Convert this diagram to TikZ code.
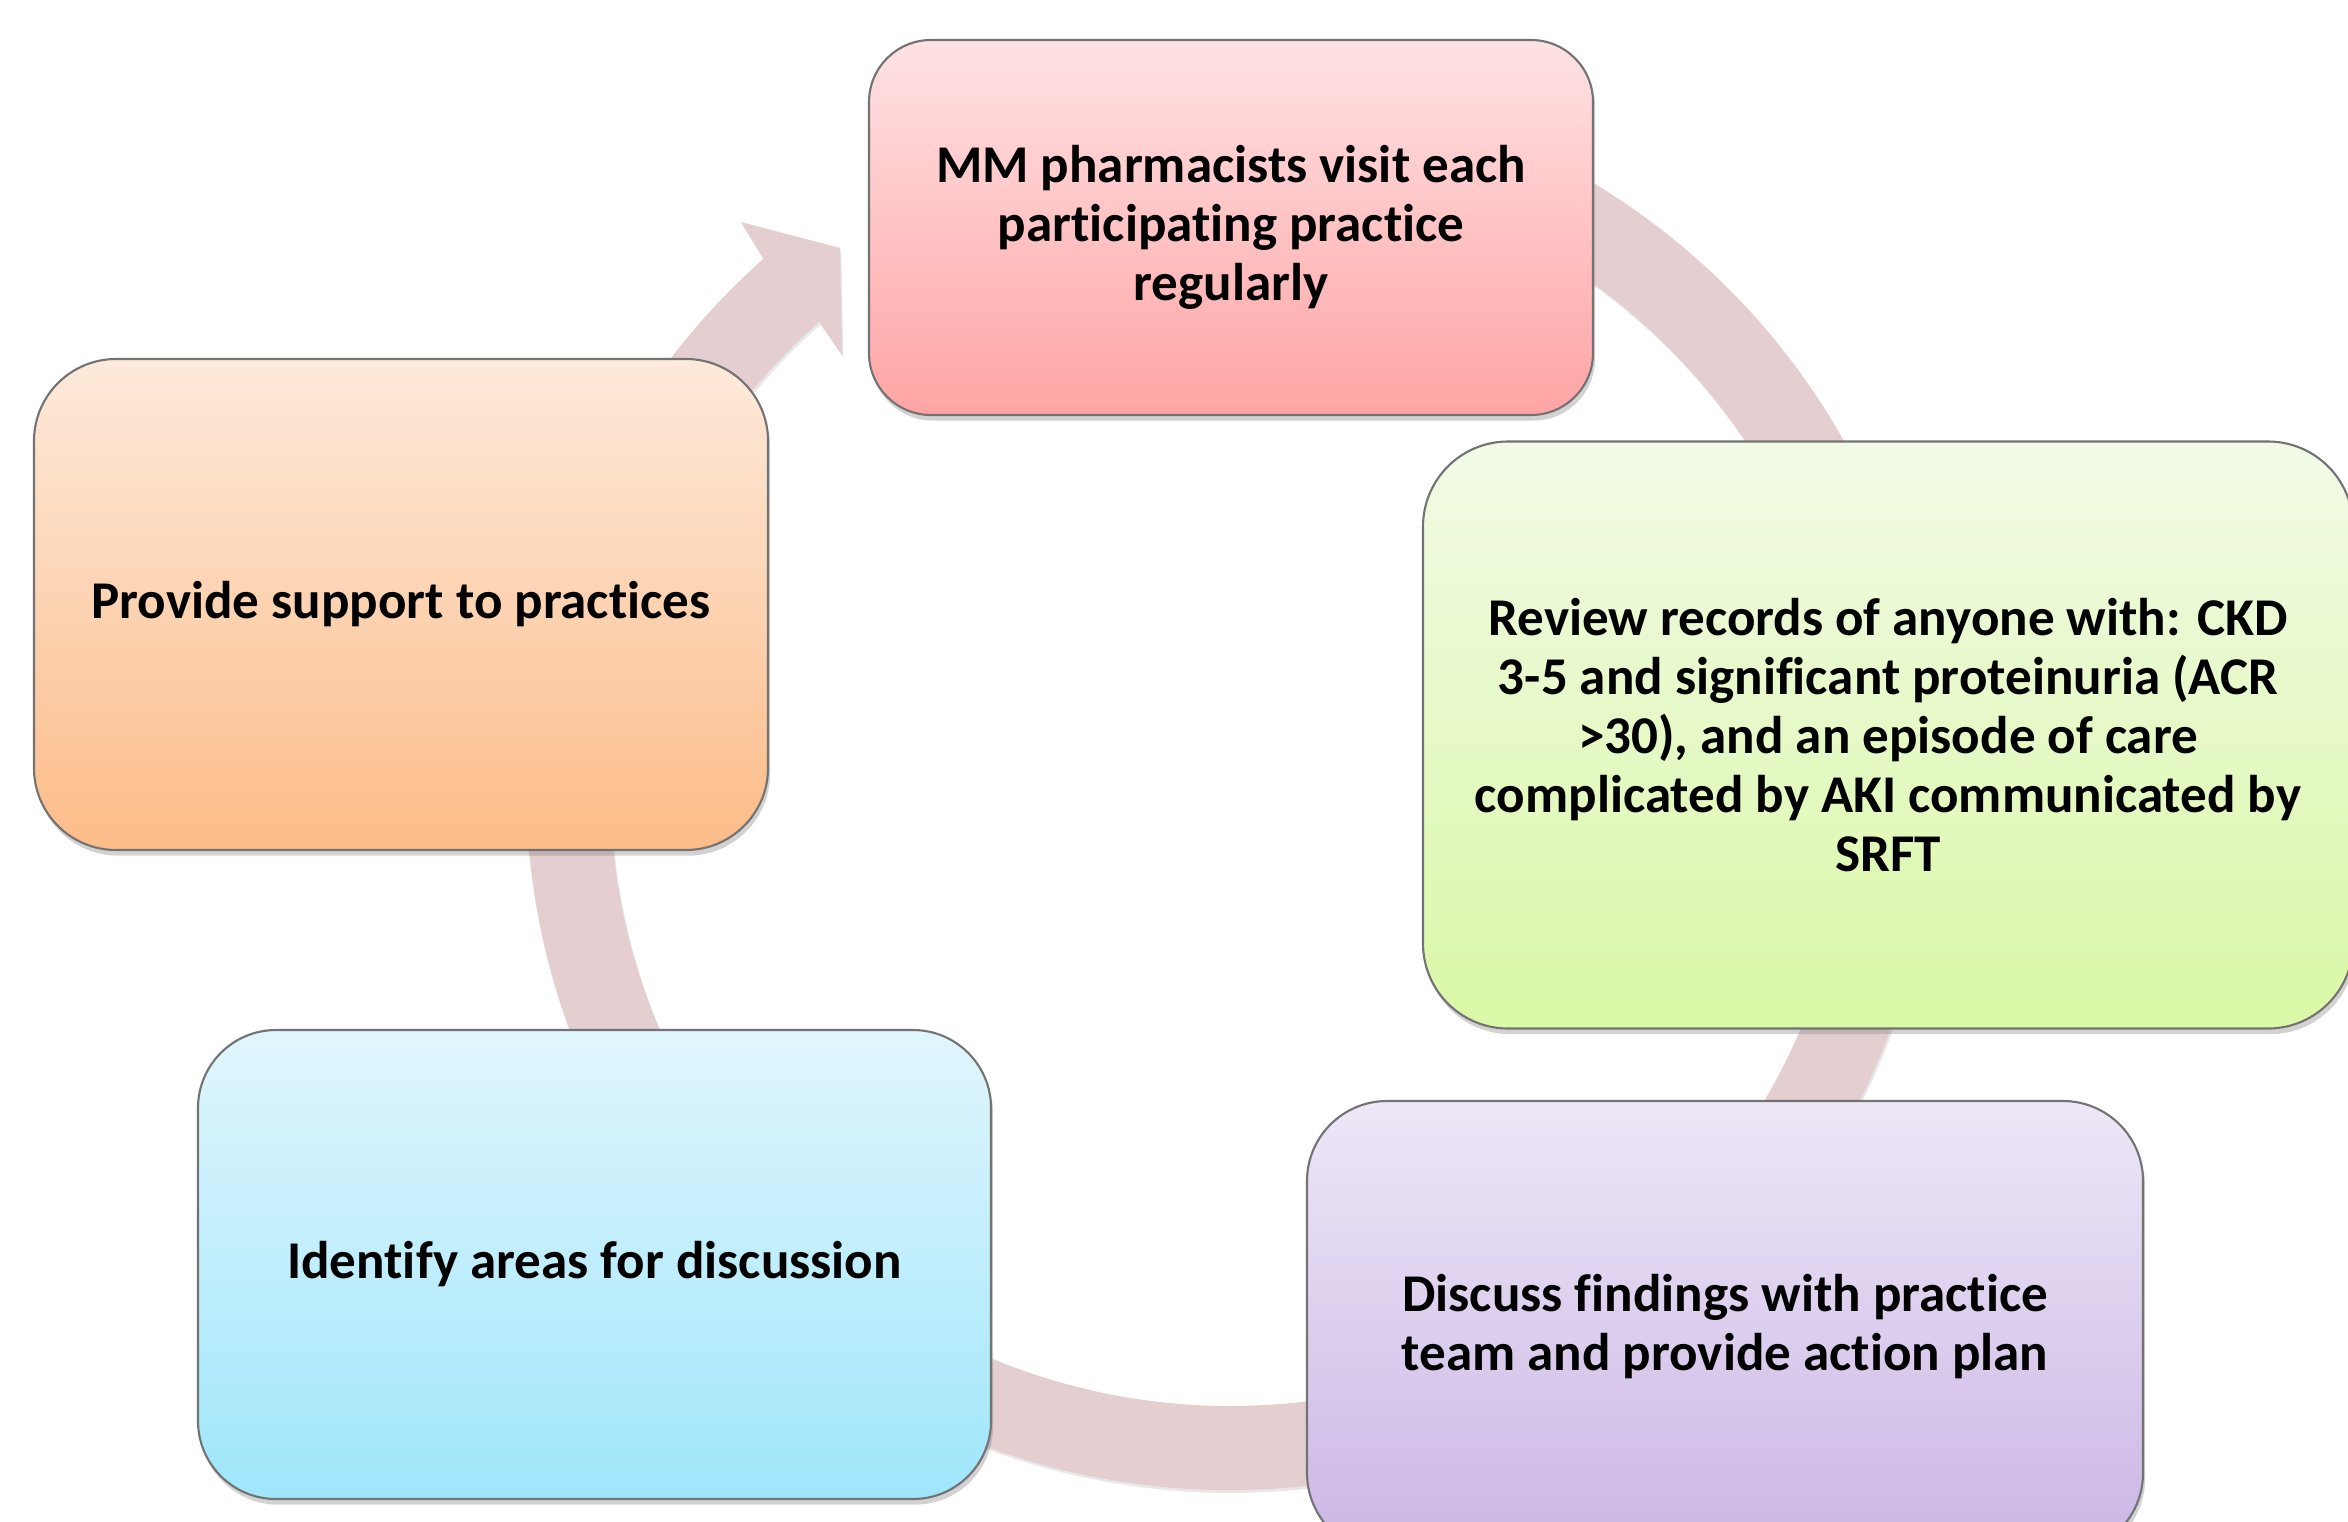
\documentclass[tikz,border=0pt]{standalone}
\usepackage{fontspec}
\setmainfont[Ligatures=NoCommon]{Carlito}
\usetikzlibrary{shadows,calc}
\definecolor{ringc}{HTML}{E5CED0}
\definecolor{pAt}{HTML}{FFE2E4}\definecolor{pAb}{HTML}{FFA4A4}
\definecolor{pBt}{HTML}{F2FAE6}\definecolor{pBb}{HTML}{DAF8A6}
\definecolor{pCt}{HTML}{EDE7F7}\definecolor{pCb}{HTML}{CBB6E5}
\definecolor{pDt}{HTML}{E1F6FD}\definecolor{pDb}{HTML}{9FE6FB}
\definecolor{pEt}{HTML}{FDEADB}\definecolor{pEb}{HTML}{FCBC88}
\tikzset{
  stepbox/.style={rectangle, rounded corners=#1, draw=black!55, line width=0.6pt,
    align=center, inner sep=0pt,
    font=\fontsize{15.1}{16.8}\selectfont\bfseries,
    drop shadow={shadow xshift=0.6pt, shadow yshift=-1.6pt, opacity=0.35}},
  ringshade/.style={fill=ringc, drop shadow={shadow xshift=0.4pt, shadow yshift=-0.8pt, opacity=0.18}}
}
\begin{document}
\begin{tikzpicture}
\useasboundingbox (0,0) rectangle (23.48,-15.21);
\clip (0,0) rectangle (23.48,-15.21);
\fill[white] (0,0) rectangle (23.48,-15.21);
\coordinate (ctr) at (12.30,-7.86);
% cycle ring with arrowhead
\path[ringshade] ([shift={(100:7.04)}]ctr) arc[start angle=100, end angle=-228.5, radius=7.04]
  -- (7.41,-2.22) -- (8.40,-2.48) -- (8.42,-3.55)
  -- ([shift={(-228.5:6.20)}]ctr) arc[start angle=-228.5, end angle=100, radius=6.20] -- cycle;
% boxes
\node[stepbox=0.62cm, top color=pAt, bottom color=pAb, minimum width=7.24cm, minimum height=3.75cm] (visit) at (12.31,-2.275)
  {MM pharmacists visit each\\participating practice\\regularly};
\node[stepbox=0.85cm, top color=pBt, bottom color=pBb, minimum width=9.30cm, minimum height=5.87cm] (review) at (18.88,-7.35)
  {Review records of anyone with: CKD\\3-5 and significant proteinuria (ACR\\>30), and an episode of care\\complicated by AKI communicated by\\SRFT};
\node[stepbox=0.80cm, top color=pCt, bottom color=pCb, minimum width=8.36cm, minimum height=4.52cm] (discuss) at (17.25,-13.27)
  {Discuss findings with practice\\team and provide action plan};
\node[stepbox=0.78cm, top color=pDt, bottom color=pDb, minimum width=7.93cm, minimum height=4.69cm] (identify) at (5.945,-12.645)
  {Identify areas for discussion};
\node[stepbox=0.82cm, top color=pEt, bottom color=pEb, minimum width=7.34cm, minimum height=4.91cm] (support) at (4.01,-6.045)
  {Provide support to practices};
\end{tikzpicture}
\end{document}
